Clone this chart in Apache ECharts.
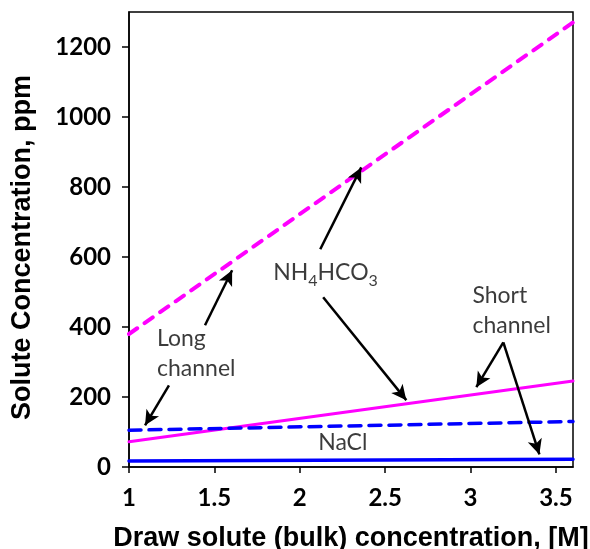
<!DOCTYPE html>
<html>
<head>
<meta charset="utf-8">
<script src="https://cdn.jsdelivr.net/npm/echarts@6/dist/echarts.min.js"></script>
<style>html,body{margin:0;padding:0;background:#fff}#c{width:590px;height:549px}</style>
</head>
<body>
<div id="c"></div>
<script>
// ---- data ----
const xRange = [1, 3.6];
const yTicks = [0, 200, 400, 600, 800, 1000, 1200];
const nh4Long  = [[1, 380], [3.6, 1270]];
const nh4Short = [[1, 72],  [3.6, 246]];
const naclLong = [[1, 105], [3.6, 130]];
const naclShort= [[1, 17],  [3.6, 22]];
// annotation texts: [x, y, text]
const labels = [
  [1.164, 367, 'Long'],
  [1.164, 281, 'channel'],
  [1.844, 556, 'NH4HCO3'],
  [3.011, 490, 'Short'],
  [3.011, 405, 'channel'],
  [2.108, 71, 'NaCl']
];
// arrows: [from, to] in data coords
const arrows = [
  [[1.445, 405], [1.604, 562]],
  [[1.234, 233], [1.094, 119]],
  [[2.120, 622], [2.360, 856]],
  [[2.137, 485], [2.624, 191]],
  [[3.192, 356], [3.034, 228]],
  [[3.192, 356], [3.403, 36]]
];

const chart = echarts.init(document.getElementById('c'), null, {renderer: 'canvas'});
const tickFont = {fontFamily: 'Lato', fontWeight: 'bold', fontSize: 24, color: '#000'};
const annFont = 'Lato';
const annColor = '#0a0a0a';
function lineSeries(data, color, dashed, width) {
  return {
    type: 'line', data: data, showSymbol: false, silent: true,
    lineStyle: {color: color, width: width, type: dashed ? dashed : 'solid', cap: 'round'},
    animation: false
  };
}
chart.setOption({
  animation: false,
  grid: {left: 129, right: 17, top: 12, bottom: 82, show: true, borderColor: '#000', borderWidth: 1.5,
         backgroundColor: 'transparent', containLabel: false, outerBoundsMode: 'none'},
  xAxis: {
    type: 'value', min: xRange[0], max: xRange[1], interval: 0.5,
    name: 'Draw solute (bulk) concentration, [M]', nameLocation: 'middle', nameGap: 58,
    nameTextStyle: {fontFamily: 'Liberation Sans', fontWeight: 'bold', fontSize: 27, color: '#000'},
    axisLine: {onZero: false, lineStyle: {color: '#000', width: 1.5}},
    axisTick: {show: true, inside: false, length: 6, lineStyle: {color: '#000', width: 1.5}},
    axisLabel: Object.assign({margin: 19, showMaxLabel: false}, tickFont),
    splitLine: {show: false}
  },
  yAxis: {
    type: 'value', min: 0, max: 1300, interval: 200,
    name: 'Solute Concentration, ppm', nameLocation: 'middle', nameGap: 93,
    nameTextStyle: {fontFamily: 'Liberation Sans', fontWeight: 'bold', fontSize: 27, color: '#000', padding: [0, 16, 0, 0]},
    axisLine: {show: true, lineStyle: {color: '#000', width: 1.5}},
    axisTick: {show: true, inside: false, length: 7, customValues: yTicks, lineStyle: {color: '#000', width: 1.5}},
    axisLabel: Object.assign({margin: 18, customValues: yTicks, formatter: v => String(v)}, tickFont),
    splitLine: {show: false}
  },
  series: [
    lineSeries(nh4Long, '#ff00ff', [10, 9], 4),
    lineSeries(nh4Short, '#ff00ff', null, 3),
    lineSeries(naclLong, '#0000ff', [12, 8], 3.5),
    lineSeries(naclShort, '#0000ff', null, 3.5),
    {
      type: 'scatter', symbolSize: 0, silent: true, animation: false,
      data: labels.map(l => ({value: [l[0], l[1]], name: l[2]})),
      label: {
        show: true, position: 'right', distance: 0,
        fontFamily: annFont, fontSize: 23, color: annColor,
        formatter: p => p.name === 'NH4HCO3' ? '{m|NH}{s|4}{m|HCO}{s|3}' : p.name,
        rich: {
          m: {fontFamily: annFont, fontSize: 23, color: annColor},
          s: {fontFamily: annFont, fontSize: 16, color: annColor, verticalAlign: 'bottom', padding: [16, 0, 0, 0]}
        }
      }
    },
    {
      type: 'line', data: [], silent: true, animation: false,
      markLine: {
        silent: true, animation: false,
        symbol: ['none', 'arrow'], symbolSize: [11, 15],
        label: {show: false},
        lineStyle: {color: '#000', width: 2.5, type: 'solid'},
        emphasis: {disabled: true},
        data: arrows.map(a => [{coord: a[0]}, {coord: a[1]}])
      }
    }
  ]
});
</script>
</body>
</html>
